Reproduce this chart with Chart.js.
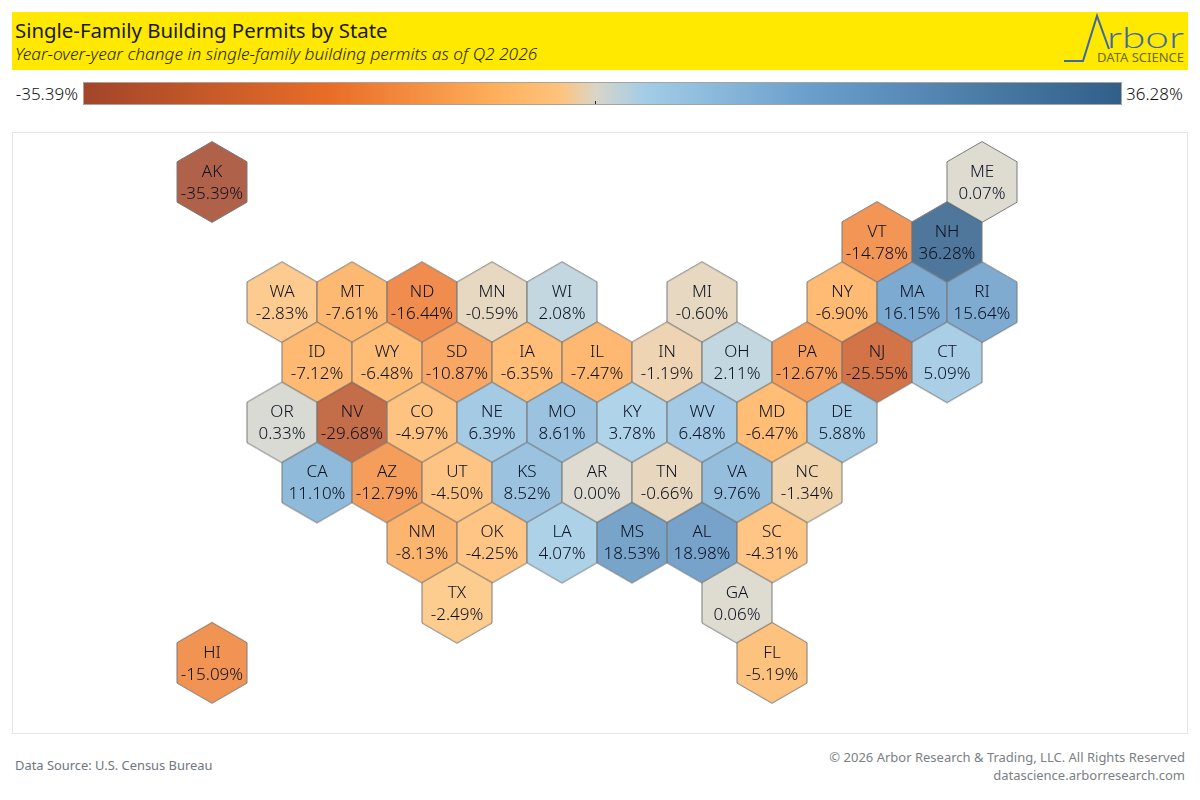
<!DOCTYPE html>
<html><head><meta charset="utf-8">
<script src="https://cdn.jsdelivr.net/npm/chart.js@4"></script>
<style>
html,body{margin:0;padding:0;background:#fff;width:1200px;height:800px;overflow:hidden;font-family:"Noto Sans",sans-serif;color:#333}
.abs{position:absolute;white-space:nowrap}
#band{left:12px;top:12px;width:1176px;height:58px;background:#ffe900}
#title{left:15px;top:17px;font-size:20.4px;line-height:26px;color:#1a1a1a}
#sub{left:15px;top:43px;font-size:17.3px;line-height:22px;font-style:italic;font-weight:300;color:#1f1f10}
#bar{left:83px;top:82px;width:1037px;height:21px;border:1px solid #a8a49a}
#tick{left:595px;top:101px;width:1px;height:3px;background:#222}
#lo{right:1122px;top:83px;font-size:17px;line-height:22px;font-weight:300;color:#111}
#hi{left:1126px;top:83px;font-size:17px;line-height:22px;font-weight:300;color:#111}
#frame{left:12px;top:132px;width:1174px;height:600px;border:1px solid #e6e6e6}
#c{position:absolute;left:13px;top:133px}
#src{left:15px;top:757px;font-size:12.9px;line-height:17px;color:#6f7680}
#copy{right:15px;top:748px;font-size:13px;line-height:18px;color:#7b7f85;text-align:right}
#logo{left:1060px;top:12px}
</style></head><body>
<div class="abs" id="band"></div>
<div class="abs" id="title">Single-Family Building Permits by State</div>
<div class="abs" id="sub">Year-over-year change in single-family building permits as of Q2 2026</div>
<svg class="abs" id="logo" width="128" height="58" viewBox="0 0 128 58">
<polyline points="4,49 23,49 37,4 49,37" fill="none" stroke="#3b68a8" stroke-width="2"/>
<text x="47" y="36" font-family="Lato" font-weight="300" font-size="29" textLength="77" lengthAdjust="spacingAndGlyphs" fill="#3b68a8">rbor</text>
<text x="37" y="50" font-family="Noto Sans" font-size="12" textLength="87" lengthAdjust="spacingAndGlyphs" fill="#6a6a30">DATA SCIENCE</text>
</svg>
<div class="abs" id="lo"></div>
<div class="abs" id="bar"></div>
<div class="abs" id="tick"></div>
<div class="abs" id="hi"></div>
<div class="abs" id="frame"></div>
<canvas id="c" width="1174" height="600" style="width:1174px;height:600px"></canvas>
<div class="abs" id="src">Data Source: U.S. Census Bureau</div>
<div class="abs" id="copy">© 2026 Arbor Research &amp; Trading, LLC. All Rights Reserved<br>datascience.arborresearch.com</div>
<script>
const states=["AK","ME","VT","NH","WA","MT","ND","MN","WI","MI","NY","MA","RI","ID","WY","SD","IA","IL","IN","OH","PA","NJ","CT","OR","NV","CO","NE","MO","KY","WV","MD","DE","CA","AZ","UT","KS","AR","TN","VA","NC","NM","OK","LA","MS","AL","SC","TX","GA","HI","FL"];
const gridCols=[0,22,19,21,2,4,6,8,10,14,18,20,22,3,5,7,9,11,13,15,17,19,21,2,4,6,8,10,12,14,16,18,3,5,7,9,11,13,15,17,6,8,10,12,14,16,7,15,0,16];
const gridRows=[0,0,1,1,2,2,2,2,2,2,2,2,2,3,3,3,3,3,3,3,3,3,3,4,4,4,4,4,4,4,4,4,5,5,5,5,5,5,5,5,6,6,6,6,6,6,7,7,8,8];
const changes=[-35.39,0.07,-14.78,36.28,-2.83,-7.61,-16.44,-0.59,2.08,-0.60,-6.90,16.15,15.64,-7.12,-6.48,-10.87,-6.35,-7.47,-1.19,2.11,-12.67,-25.55,5.09,0.33,-29.68,-4.97,6.39,8.61,3.78,6.48,-6.47,5.88,11.10,-12.79,-4.50,8.52,0.00,-0.66,9.76,-1.34,-8.13,-4.25,4.07,18.53,18.98,-4.31,-2.49,0.06,-15.09,-5.19];
const scaleMin=-35.39, scaleMax=36.28;
const rampColors=["#a2452a","#e96e27","#ffb05c","#fdc47e","#d9d5c9","#a3cde6","#6a9fcc","#305f8a"];
const rampPos=[0,0.24,0.40,0.46,0.494,0.54,0.70,1];

function hexToRgb(h){return [1,3,5].map(i=>parseInt(h.slice(i,i+2),16));}
function colorAt(t){
  t=Math.max(0,Math.min(1,t));
  let i=0; while(i<rampPos.length-2&&t>rampPos[i+1])i++;
  const f=(t-rampPos[i])/(rampPos[i+1]-rampPos[i]);
  const a=hexToRgb(rampColors[i]),b=hexToRgb(rampColors[i+1]);
  return a.map((v,k)=>Math.round(v+(b[k]-v)*f));
}
function valueColor(v){
  const c=colorAt((v-scaleMin)/(scaleMax-scaleMin));
  return `rgba(${c[0]},${c[1]},${c[2]},0.85)`;
}
function hexSprite(fill){
  const w=72,h=84,R=35/Math.cos(Math.PI/6);
  const cv=document.createElement('canvas');cv.width=w;cv.height=h;
  const x=cv.getContext('2d');
  x.beginPath();
  for(let i=0;i<6;i++){
    const a=Math.PI/3*i-Math.PI/2;
    const px=w/2+R*Math.cos(a), py=h/2+R*Math.sin(a);
    i?x.lineTo(px,py):x.moveTo(px,py);
  }
  x.closePath();
  x.fillStyle=fill;x.fill();
  x.lineWidth=1;x.strokeStyle='#7a7a7a';x.stroke();
  return cv;
}
document.getElementById('bar').style.background='linear-gradient(to right,'+rampColors.map((c,i)=>c+' '+(rampPos[i]*100)+'%').join(',')+')';
const fmt=v=>v.toFixed(2)+'%';
document.getElementById('lo').textContent=fmt(scaleMin);
document.getElementById('hi').textContent=fmt(scaleMax);

const hexLabels={id:'hexLabels',afterDatasetsDraw(chart){
  const ctx=chart.ctx,pts=chart.getDatasetMeta(0).data;
  ctx.save();ctx.textAlign='center';ctx.textBaseline='middle';
  ctx.font='300 17px "Noto Sans"';ctx.fillStyle='#0a1020';
  pts.forEach((p,i)=>{
    ctx.fillText(states[i],p.x,p.y-10);
    ctx.fillText(fmt(changes[i]),p.x,p.y+12);
  });
  ctx.restore();
}};
new Chart(document.getElementById('c'),{
  type:'scatter',
  data:{datasets:[{
    label:'Year-over-year change',
    data:states.map((s,i)=>({x:gridCols[i],y:gridRows[i]})),
    pointStyle:changes.map(v=>hexSprite(valueColor(v))),
    pointRadius:35,pointHoverRadius:35,clip:false
  }]},
  options:{
    responsive:false,animation:false,devicePixelRatio:1,
    layout:{padding:0,autoPadding:false},
    plugins:{legend:{display:false},title:{display:false},tooltip:{enabled:false}},
    scales:{
      x:{type:'linear',display:false,min:-199/35,max:975/35},
      y:{type:'linear',display:false,reverse:true,min:-49/60.1,max:551/60.1}
    }
  },
  plugins:[hexLabels]
});
</script>
</body></html>
